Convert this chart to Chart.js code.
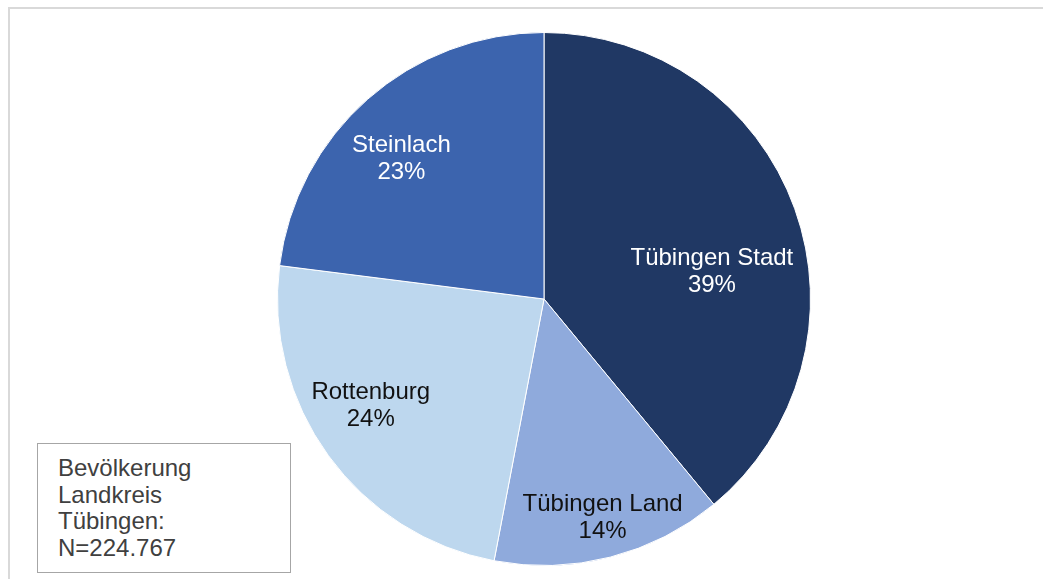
<!DOCTYPE html>
<html lang="de">
<head>
    <meta charset="UTF-8">
    <title>Bevölkerung Landkreis Tübingen</title>
    <style>
        html, body { margin: 0; padding: 0; background: #fff; }
        body { width: 1043px; height: 579px; position: relative; overflow: hidden; }
        .frame {
            position: absolute; left: 8px; top: 7px; width: 1100px; height: 600px;
            border-top: 2px solid #d9d9d9; border-left: 2px solid #d9d9d9;
        }
        #wrap { position: absolute; left: 0; top: 0; width: 1043px; height: 579px; }
        .note {
            position: absolute; left: 37px; top: 443px; width: 254px; height: 130px;
            border: 1.5px solid #a6a6a6; background: #fff; box-sizing: border-box;
            padding: 11px 0 0 20px;
            font-family: "Liberation Sans", Arial, sans-serif; font-size: 24px;
            line-height: 26.7px; color: #404040;
        }
    </style>
</head>
<body>
    <div class="frame"></div>
    <div id="wrap">
        <canvas id="myChart"></canvas>
    </div>
    <div class="note">Bevölkerung<br>Landkreis<br>Tübingen:<br>N=224.767</div>

    <script src="https://cdn.jsdelivr.net/npm/chart.js@4/dist/chart.umd.min.js"></script>
    <script>
    // Anteile an der Bevölkerung in Prozent
    var regionen = ['Tübingen Stadt', 'Tübingen Land', 'Rottenburg', 'Steinlach'];
    var anteile = [39, 14, 24, 23];
    var farben = ['#203864', '#8faadc', '#bdd7ee', '#3c64ae'];
    var textFarben = ['#ffffff', '#111111', '#111111', '#ffffff'];

    // Lage der Beschriftung relativ zum Mittelpunkt, in Radien
    var labelPos = [[0.63, -0.1], [0.22, 0.82], [-0.65, 0.4], [-0.535, -0.525]];

    var sliceLabels = {
        id: 'sliceLabels',
        afterDatasetsDraw: function (chart) {
            var ctx = chart.ctx;
            var meta = chart.getDatasetMeta(0);
            var werte = chart.data.datasets[0].data;
            var summe = werte.reduce(function (a, b) { return a + b; }, 0);
            ctx.save();
            ctx.font = '24px "Liberation Sans", Arial, sans-serif';
            ctx.textAlign = 'center';
            ctx.textBaseline = 'middle';
            meta.data.forEach(function (arc, i) {
                var r = arc.outerRadius;
                var x = arc.x + labelPos[i][0] * r;
                var y = arc.y + labelPos[i][1] * r;
                ctx.fillStyle = textFarben[i];
                ctx.fillText(chart.data.labels[i], x, y - 13.5);
                ctx.fillText(Math.round(werte[i] / summe * 100) + '%', x, y + 13.5);
            });
            ctx.restore();
        }
    };

    var ctx = document.getElementById('myChart');
    var myChart = new Chart(ctx, {
        type: 'pie',
        data: {
            labels: regionen,
            datasets: [{
                data: anteile,
                backgroundColor: farben,
                borderColor: '#ffffff',
                borderWidth: 1
            }]
        },
        options: {
            responsive: true,
            maintainAspectRatio: false,
            animation: false,
            layout: { padding: { top: 32, bottom: 13, left: 245, right: 200 } },
            plugins: {
                legend: { display: false },
                tooltip: { enabled: false }
            }
        },
        plugins: [sliceLabels]
    });
    </script>
</body>
</html>
